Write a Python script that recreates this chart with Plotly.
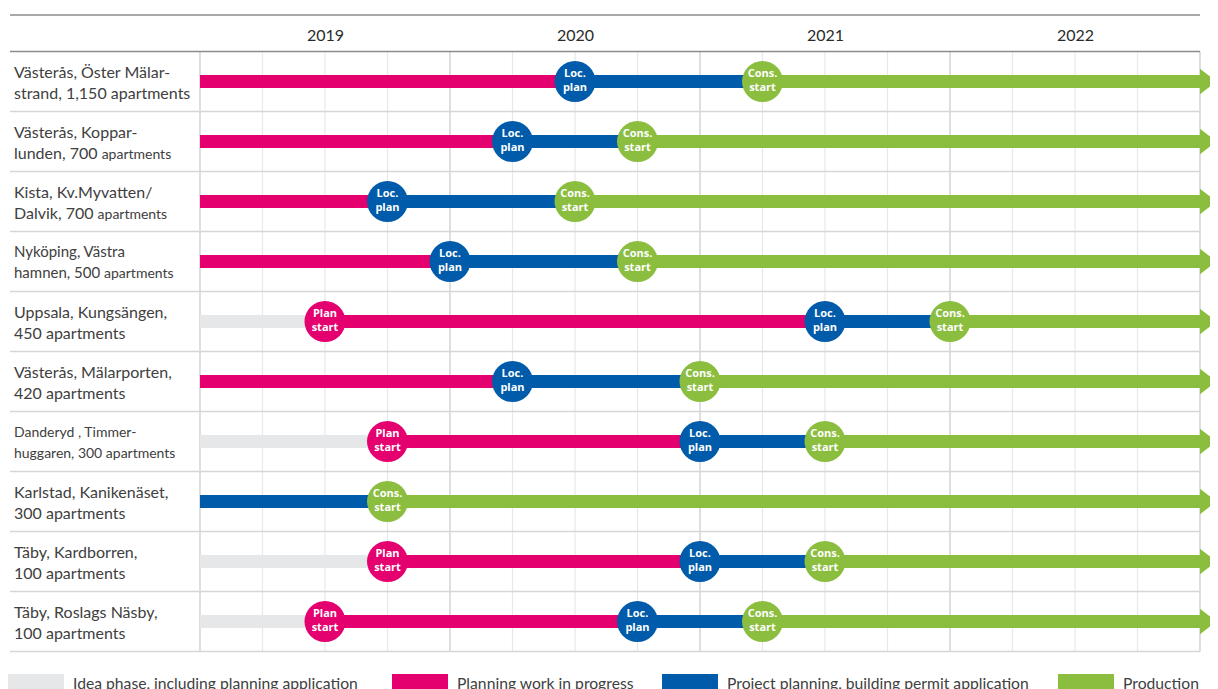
import plotly.graph_objects as go

# --- data -------------------------------------------------------------
projects = [
    "Västerås, Öster Mälar-<br>strand, 1,150 apartments",
    "Västerås, Koppar-<br>lunden, 700 <span style='font-size:14px'>apartments</span>",
    "Kista, Kv.Myvatten/<br>Dalvik, 700 <span style='font-size:14px'>apartments</span>",
    "<span style='font-size:15px'>Nyköping, Västra<br>hamnen, 500 </span><span style='font-size:14px'>apartments</span>",
    "Uppsala, Kungsängen,<br>450 apartments",
    "Västerås, Mälarporten,<br>420 apartments",
    "<span style='font-size:14px'>Danderyd , Timmer-<br>huggaren, 300 apartments</span>",
    "Karlstad, Kanikenäset,<br>300 apartments",
    "Täby, Kardborren,<br>100 apartments",
    "Täby, Roslags Näsby,<br>100 apartments",
]

# milestone dates as fractional years (quarter steps)
plan_start = [None, None, None, None, 2019.5, None, 2019.75, None, 2019.75, 2019.5]
loc_plan = [2020.5, 2020.25, 2019.75, 2020.0, 2021.5, 2020.25, 2021.0, None, 2021.0, 2020.75]
cons_start = [2021.25, 2020.75, 2020.5, 2020.75, 2022.0, 2021.0, 2021.5, 2019.75, 2021.5, 2021.25]

years = [2019, 2020, 2021, 2022]
timeline_start = 2019.0
timeline_end = 2023.0

phase_names = [
    "Idea phase, including planning application",
    "Planning work in progress",
    "Project planning, building permit application",
    "Production",
]
phase_colors = ["#E6E7E8", "#E4006F", "#005BAA", "#8BBD3F"]
milestone_labels = ["Plan<br>start", "Loc.<br>plan", "Cons.<br>start"]

# --- pixel helpers for layout furniture ----------------------------------
# the page body has an 8px margin, so the figure starts at (8, 8)
PAGE_W, PAGE_H, OFF = 1218, 689, 8
X0_PX, YEAR_PX = 200, 250
ROW0_PX, ROW_PX = 81.5, 60


def X(px):
    return timeline_start + (px - X0_PX) / YEAR_PX


def Y(px):
    return (px - ROW0_PX) / ROW_PX


font = "Lato, 'Open Sans', sans-serif"
text_col = "#404040"

fig = go.Figure()

# --- grid -------------------------------------------------------------
n = len(projects)
q = timeline_start
while q <= timeline_end + 1e-9:
    major = abs(q - round(q)) < 1e-9
    fig.add_shape(type="line", x0=q, x1=q, y0=-0.5, y1=n - 0.5, layer="below",
                  line=dict(color="#C9C9C9" if major else "#E8E8E8", width=1.2))
    q += 0.25

for k in range(n + 1):
    fig.add_shape(type="line", x0=X(10), x1=timeline_end, y0=k - 0.5, y1=k - 0.5,
                  layer="below",
                  line=dict(color="#8C8C8C" if k == 0 else "#D6D6D6", width=1.6))
fig.add_shape(type="line", x0=X(10), x1=timeline_end, y0=Y(15), y1=Y(15),
              layer="below", line=dict(color="#8C8C8C", width=1.6))

# --- bars ---------------------------------------------------------------
seg_x = [[] for _ in phase_names]
seg_y = [[] for _ in phase_names]
ms_x = [[] for _ in milestone_labels]
ms_y = [[] for _ in milestone_labels]

for i in range(n):
    stones = [(d, k + 1) for k, d in enumerate([plan_start[i], loc_plan[i], cons_start[i]])
              if d is not None]
    cur_x = timeline_start
    cur_phase = stones[0][1] - 1
    for d, ph in stones:
        seg_x[cur_phase] += [cur_x, d, None]
        seg_y[cur_phase] += [i, i, None]
        ms_x[ph - 1].append(d)
        ms_y[ph - 1].append(i)
        cur_x, cur_phase = d, ph
    seg_x[cur_phase] += [cur_x, timeline_end, None]
    seg_y[cur_phase] += [i, i, None]

for p, name in enumerate(phase_names):
    fig.add_trace(go.Scatter(x=seg_x[p], y=seg_y[p], mode="lines", name=name,
                             line=dict(color=phase_colors[p], width=13),
                             hoverinfo="skip", showlegend=False))

# arrow heads
fig.add_trace(go.Scatter(x=[timeline_end + 5.5 / YEAR_PX] * n, y=list(range(n)),
                         mode="markers", hoverinfo="skip", showlegend=False,
                         cliponaxis=False,
                         marker=dict(symbol="triangle-right", size=22,
                                     color=phase_colors[3], line=dict(width=0))))

# milestones
for m, lab in enumerate(milestone_labels):
    fig.add_trace(go.Scatter(x=ms_x[m], y=ms_y[m], mode="markers+text",
                             text=[lab] * len(ms_x[m]), textposition="middle center",
                             textfont=dict(family="'Open Sans', sans-serif", size=11,
                                           color="white", weight="bold"),
                             marker=dict(size=41, color=phase_colors[m + 1],
                                         line=dict(width=0)),
                             hoverinfo="skip", showlegend=False))

# --- text ----------------------------------------------------------------
for yv in years:
    fig.add_annotation(x=yv + 0.5, y=Y(34), text=str(yv), showarrow=False,
                       font=dict(family=font, size=16, color="#2a2a2a"))

for i, lab in enumerate(projects):
    fig.add_annotation(x=X(11.5), y=i, text=lab, showarrow=False, xanchor="left",
                       align="left", font=dict(family=font, size=16, color=text_col))

# legend
sw_left = [8, 392, 662, 1058]
for p, name in enumerate(phase_names):
    fig.add_shape(type="rect", x0=X(sw_left[p]), x1=X(sw_left[p] + 56),
                  y0=Y(674), y1=Y(695), line=dict(width=0),
                  fillcolor=phase_colors[p])
    fig.add_annotation(x=X(sw_left[p] + 63), y=Y(683), text=name, showarrow=False,
                       xanchor="left", font=dict(family=font, size=15.7, color=text_col))

fig.update_layout(
    width=PAGE_W - OFF, height=PAGE_H - OFF,
    margin=dict(l=0, r=0, t=0, b=0),
    paper_bgcolor="white", plot_bgcolor="white",
    xaxis=dict(range=[X(OFF), X(PAGE_W)], visible=False, fixedrange=True),
    yaxis=dict(range=[Y(PAGE_H), Y(OFF)], visible=False, fixedrange=True),
    showlegend=False,
)

fig.write_html("out.html")
